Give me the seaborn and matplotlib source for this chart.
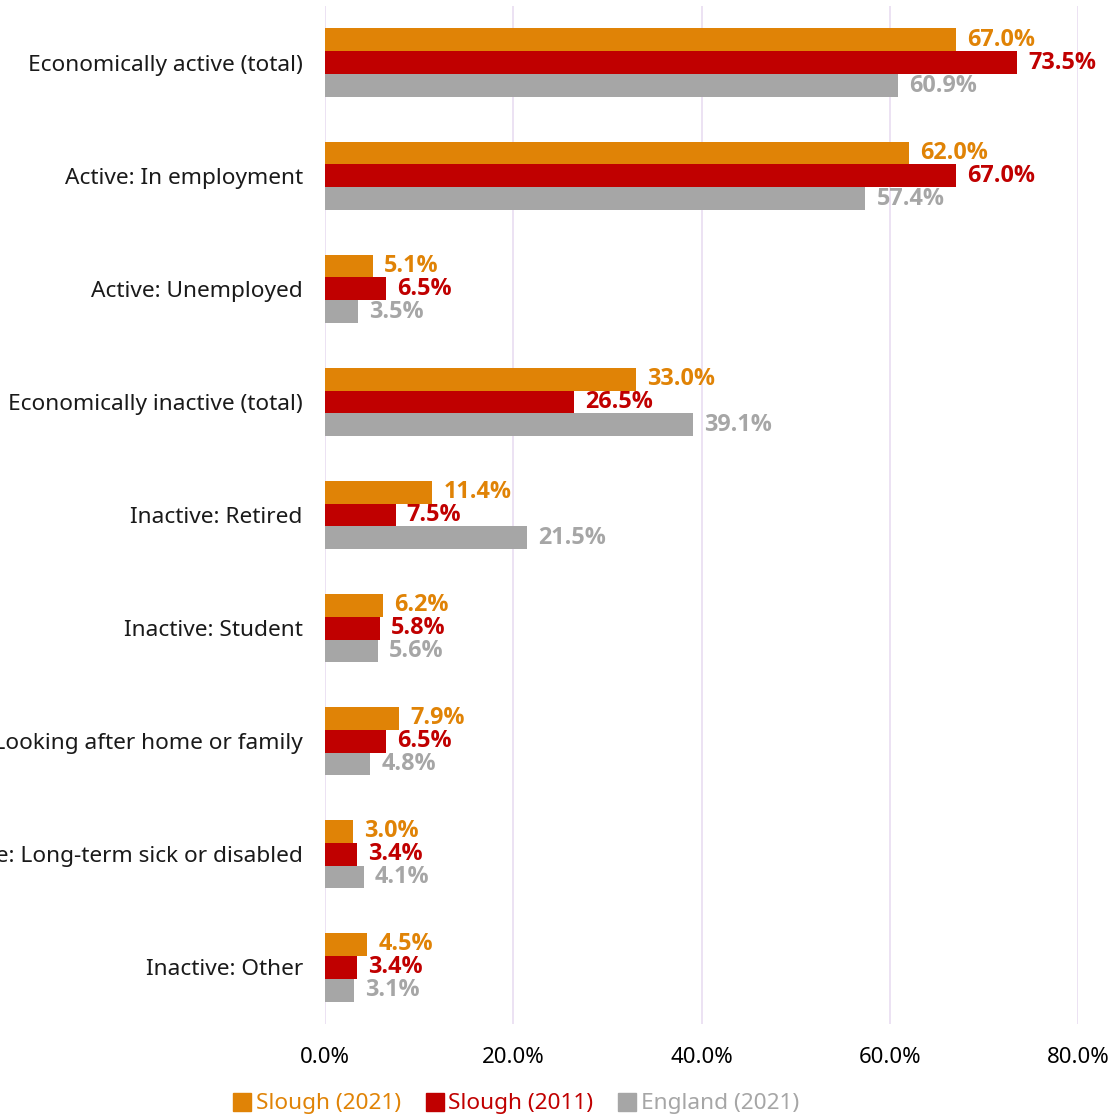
import pandas as pd
import seaborn as sns
import matplotlib.pyplot as plt
from matplotlib.lines import Line2D
from matplotlib.ticker import FuncFormatter

# categories and series values (percent)
categories = ['Economically active (total)', 'Active: In employment', 'Active: Unemployed',
              'Economically inactive (total)', 'Inactive: Retired', 'Inactive: Student',
              'Inactive: Looking after home or family', 'Inactive: Long-term sick or disabled',
              'Inactive: Other']
slough_2021 = [67.0, 62.0, 5.1, 33.0, 11.4, 6.2, 7.9, 3.0, 4.5]
slough_2011 = [73.5, 67.0, 6.5, 26.5, 7.5, 5.8, 6.5, 3.4, 3.4]
england_2021 = [60.9, 57.4, 3.5, 39.1, 21.5, 5.6, 4.8, 4.1, 3.1]
series_names = ['Slough (2021)', 'Slough (2011)', 'England (2021)']
colors = ['#E08306', '#C00000', '#A6A6A6']

rows = []
for name, vals in zip(series_names, [slough_2021, slough_2011, england_2021]):
    for c, v in zip(categories, vals):
        rows.append({'category': c, 'value': v, 'series': name})
df = pd.DataFrame(rows)

sns.set_style('white')
plt.rcParams['font.family'] = ['Noto Sans', 'DejaVu Sans']

fig = plt.figure(figsize=(11.12, 11.14), dpi=100)
ax = fig.add_axes([0.2923, 0.0812, 0.6771, 0.913])

sns.barplot(data=df, y='category', x='value', hue='series', palette=colors,
            orient='h', width=0.61, order=categories, hue_order=series_names,
            ax=ax, legend=False, saturation=1, linewidth=0)

# bold value labels at the end of each bar
for cont, col in zip(ax.containers, colors):
    ax.bar_label(cont, labels=['%.1f%%' % v for v in cont.datavalues], padding=8,
                 color=col, fontsize=16.8, fontweight='bold',
                 family=['Open Sans', 'DejaVu Sans'])

ax.set_xlim(0, 80)
ax.set_xticks([0, 20, 40, 60, 80])
ax.xaxis.set_major_formatter(FuncFormatter(lambda x, p: '%.1f%%' % x))
ax.grid(axis='x', color='#EADFF2', linewidth=1.3)
ax.set_axisbelow(True)
for s in ax.spines.values():
    s.set_visible(False)
ax.tick_params(axis='x', length=0, pad=17, labelsize=16, colors='#000000')
ax.tick_params(axis='y', length=0, pad=16, labelsize=16.3, colors='#1a1a1a')
ax.set_xlabel('')
ax.set_ylabel('')

handles = [Line2D([], [], marker='s', linestyle='none', markersize=13,
                  markerfacecolor=c, markeredgecolor=c) for c in colors]
leg = fig.legend(handles, series_names, loc='center', bbox_to_anchor=(0.463, 0.009),
                 ncol=3, frameon=False, fontsize=16.3, handletextpad=0.1,
                 columnspacing=1.0, handlelength=1.0)
for t, c in zip(leg.get_texts(), colors):
    t.set_color(c)

fig.savefig('out.png', dpi=100)
